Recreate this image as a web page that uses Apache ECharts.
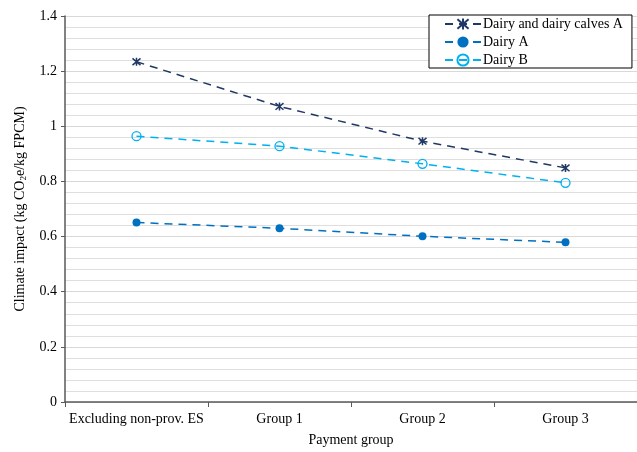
<!DOCTYPE html>
<html>
<head>
<meta charset="utf-8">
<script src="https://cdn.jsdelivr.net/npm/echarts@6/dist/echarts.min.js"></script>
<style>html,body{margin:0;padding:0;background:#fff}#c{width:637px;height:452px}</style>
</head>
<body>
<div id="c"></div>
<script>
var categories = ['Excluding non-prov. ES', 'Group 1', 'Group 2', 'Group 3'];
var seriesNames = ['Dairy and dairy calves A', 'Dairy A', 'Dairy B'];
var dairyCalvesA = [1.234, 1.072, 0.946, 0.849];
var dairyA = [0.651, 0.630, 0.601, 0.579];
var dairyB = [0.964, 0.928, 0.864, 0.795];

var FONT = '"Liberation Serif", "Times New Roman", serif';
var chart = echarts.init(document.getElementById('c'), null, {renderer: 'canvas'});
var star = 'path://M0,0 L10,10 M10,0 L0,10 M5,-1 L5,11';
chart.setOption({
  animation: false,
  backgroundColor: '#fff',
  textStyle: {fontFamily: FONT},
  grid: {left: 65, right: -3, top: 16, bottom: 47},
  legend: {
    orient: 'vertical', left: 429, top: 15,
    padding: [2, 9, 1, 15], itemGap: 4, itemWidth: 36, itemHeight: 14,
    borderColor: '#000', borderWidth: 1, backgroundColor: '#fff',
    textStyle: {fontFamily: FONT, fontSize: 14, color: '#000', padding: [0, 0, 0, -3]},
    data: seriesNames
  },
  xAxis: {
    type: 'category', data: categories, boundaryGap: true,
    name: 'Payment group', nameLocation: 'middle', nameGap: 31,
    nameTextStyle: {fontFamily: FONT, fontSize: 14, color: '#000'},
    axisLine: {lineStyle: {color: '#595959', width: 1.5}},
    axisTick: {show: true, length: 5, interval: 0, lineStyle: {color: '#595959'}},
    axisLabel: {fontFamily: FONT, fontSize: 14, color: '#000', margin: 10, interval: 0}
  },
  yAxis: {
    type: 'value', min: 0, max: 1.4, interval: 0.2,
    name: 'Climate impact (kg CO{sub|2}e/kg FPCM)', nameLocation: 'middle', nameGap: 37,
    nameTextStyle: {fontFamily: FONT, fontSize: 14, color: '#000',
      rich: {sub: {fontFamily: FONT, fontSize: 9, color: '#000', verticalAlign: 'bottom', padding: [6, 0, 0, 0]}}},
    axisLine: {show: true, lineStyle: {color: '#595959', width: 1.5}},
    axisTick: {show: true, length: 4, lineStyle: {color: '#595959'}},
    axisLabel: {fontFamily: FONT, fontSize: 14, color: '#000', margin: 8},
    splitLine: {show: true, lineStyle: {color: '#d9d9d9', width: 1}},
    minorTick: {show: false, splitNumber: 5},
    minorSplitLine: {show: true, lineStyle: {color: '#dedede', width: 1}}
  },
  series: [
    {
      name: seriesNames[0], type: 'line', data: dairyCalvesA,
      symbol: star, symbolSize: 8,
      lineStyle: {color: '#1f3864', width: 1.5, type: [8, 6]},
      itemStyle: {color: '#1f3864', borderColor: '#1f3864', borderWidth: 1.5}
    },
    {
      name: seriesNames[1], type: 'line', data: dairyA,
      symbol: 'circle', symbolSize: 8,
      lineStyle: {color: '#0070c0', width: 1.5, type: [8, 6]},
      itemStyle: {color: '#0070c0'}
    },
    {
      name: seriesNames[2], type: 'line', data: dairyB,
      symbol: 'circle', symbolSize: 9,
      lineStyle: {color: '#00b0f0', width: 1.5, type: [8, 6]},
      itemStyle: {color: 'rgba(0,0,0,0)', borderColor: '#00b0f0', borderWidth: 1.3}
    }
  ]
});
</script>
</body>
</html>
